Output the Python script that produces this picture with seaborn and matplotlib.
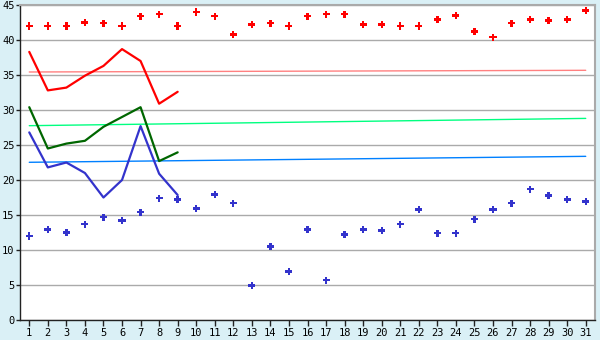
import matplotlib
matplotlib.use("Agg")
import matplotlib.pyplot as plt
import seaborn as sns
import pandas as pd
import numpy as np

days = list(range(1, 32))
record_high = [42.0, 42.0, 42.0, 42.5, 42.4, 42.0, 43.4, 43.7, 42.0, 44.0,
               43.4, 40.8, 42.2, 42.4, 42.0, 43.4, 43.7, 43.7, 42.2, 42.2,
               42.0, 42.0, 42.95, 43.5, 41.2, 40.4, 42.4, 42.95, 42.8, 42.95, 44.2]
record_low = [12.0, 12.95, 12.5, 13.7, 14.7, 14.2, 15.4, 17.4, 17.2, 15.95,
              17.95, 16.7, 4.95, 10.5, 6.95, 12.95, 5.7, 12.2, 12.95, 12.8,
              13.7, 15.8, 12.4, 12.4, 14.4, 15.8, 16.7, 18.7, 17.8, 17.2, 16.95]
obs_days = list(range(1, 10))
obs_max = [38.3, 32.8, 33.2, 34.9, 36.3, 38.7, 37.0, 30.9, 32.6]
obs_mean = [30.4, 24.5, 25.2, 25.6, 27.6, 29.0, 30.4, 22.7, 23.95]
obs_min = [26.8, 21.8, 22.5, 21.0, 17.5, 20.0, 27.7, 20.9, 17.85]
normal_names = ["max", "mean", "min"]
normal_start = [35.43, 27.76, 22.53]
normal_end = [35.67, 28.8, 23.38]

BG = "#daf0f6"
sns.set_theme(style="white")
plt.rcParams["font.family"] = ["DejaVu Sans Mono", "DejaVu Sans"]

fig = plt.figure(figsize=(6, 3.4), dpi=100, facecolor=BG)
ax = fig.add_axes([20 / 600, 1 - 320 / 340, 575 / 600, 315 / 340])
ax.set_facecolor("white")

for v in range(0, 50, 5):
    ax.axhline(v, color="#aaaaaa", lw=1, zorder=0)

norm_df = pd.DataFrame({
    "day": [1, 31] * 3,
    "val": [x for s, e in zip(normal_start, normal_end) for x in (s, e)],
    "kind": [n for n in normal_names for _ in range(2)],
})
sns.lineplot(data=norm_df, x="day", y="val", hue="kind",
             palette={"max": "#ff8080", "mean": "#00ff80", "min": "#0080ff"},
             lw=1, legend=False, ax=ax, zorder=2)

obs_df = pd.DataFrame({
    "day": obs_days * 3,
    "val": obs_max + obs_mean + obs_min,
    "kind": ["max"] * 9 + ["mean"] * 9 + ["min"] * 9,
})
sns.lineplot(data=obs_df, x="day", y="val", hue="kind",
             palette={"max": "#ff0000", "mean": "#006600", "min": "#3333cc"},
             lw=1.6, legend=False, ax=ax, zorder=3)

rec_df = pd.DataFrame({
    "day": days * 2,
    "val": record_high + record_low,
    "kind": ["high"] * 31 + ["low"] * 31,
})
sns.scatterplot(data=rec_df, x="day", y="val", hue="kind",
                palette={"high": "#ff0000", "low": "#3333cc"},
                marker="P", s=26, linewidth=0, legend=False, ax=ax, zorder=4)

ax.set_xlim(0.5, 31.5)
ax.set_ylim(0, 45)
ax.set_xticks(days)
ax.set_xticklabels([str(d) for d in days])
ax.set_yticks(range(0, 50, 5))
ax.set_xlabel("")
ax.set_ylabel("")
ax.tick_params(axis="both", which="both", direction="out", width=1,
               color="#222222", labelsize=7.5, labelcolor="black",
               left=True, bottom=True)
ax.tick_params(axis="y", length=3, pad=1)
ax.tick_params(axis="x", length=4, pad=2)
for side in ["top", "right"]:
    ax.spines[side].set_color("#aaaaaa")
    ax.spines[side].set_linewidth(1.5)
for side in ["left", "bottom"]:
    ax.spines[side].set_color("#222222")
    ax.spines[side].set_linewidth(1)

fig.savefig("out.png", dpi=100, facecolor=BG)
